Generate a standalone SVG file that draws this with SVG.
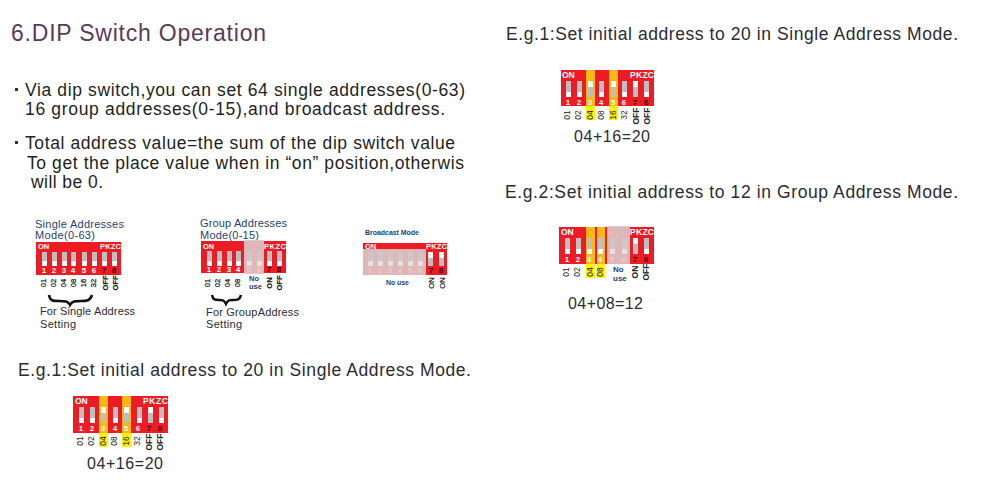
<svg xmlns="http://www.w3.org/2000/svg" width="982" height="483" viewBox="0 0 982 483">
<style>
text{font-family:"Liberation Sans",Arial,sans-serif}
.body{font-size:17.5px;fill:#231f20}
.eg{font-size:17.5px;fill:#2b2b33}
.sum{font-size:16px;fill:#2b2b33}
.cap{font-size:11px;fill:#1f3f73}
.set{font-size:11px;fill:#2b2b33}
.red{fill:#ed1c24}
.or{fill:#fdb913}
.ye{fill:#fff200}
.ov{fill:#dcc4c6;opacity:.92}
.hd{font-size:7.5px;font-weight:bold;fill:#fff}
.hb{font-size:8.5px;font-weight:bold;fill:#fff}
.n{font-size:8px;font-weight:bold;fill:#fff;text-anchor:middle}
.k{font-size:8px;font-weight:bold;fill:#3a0a10;text-anchor:middle}
.p{font-size:8px;font-weight:bold;fill:#fbdada;text-anchor:middle}
.v{font-size:7.5px;fill:#111;stroke:#111;stroke-width:.2;text-anchor:middle}
.vb{font-size:8.5px;fill:#231f20;text-anchor:middle}
.b{font-weight:bold}
.g{fill:#bcbec0}.w{fill:#fff}
.g2{fill:#cfc6c6}.w2{fill:#e8dede}
.brace{fill:none;stroke:#111;stroke-width:2.5}
.nu{font-size:7.5px;font-weight:bold;fill:#1f3f73}
</style>
<rect width="982" height="483" fill="#fff"/>
<text x="11" y="41" font-size="23" fill="#5a3a5c" textLength="255">6.DIP Switch Operation</text>
<g id="notes">
<rect x="15" y="88" width="3" height="3" fill="#333"/>
<text class="body" x="25" y="96" textLength="440">Via dip switch,you can set 64 single addresses(0-63)</text>
<text class="body" x="25" y="115" textLength="420">16 group addresses(0-15),and broadcast address.</text>
<rect x="15" y="141" width="3" height="3" fill="#333"/>
<text class="body" x="25" y="149" textLength="430">Total address value=the sum of the dip switch value</text>
<text class="body" x="27" y="169" textLength="437">To get the place value when in “on” position,otherwis</text>
<text class="body" x="31" y="188" textLength="72">will be 0.</text>
</g>
<g id="single-mode">
<text class="cap" x="35" y="228" textLength="89">Single Addresses</text>
<text class="cap" x="35" y="239" textLength="60">Mode(0-63)</text>
<rect class="red" x="36" y="242" width="85" height="33"/>
<text class="hd" x="38" y="249">ON</text><text class="hd" x="100" y="249" textLength="21">PKZC</text>
<path class="g" d="M42 252h5v9h-5zM52 252h5v9h-5zM62 252h5v9h-5zM71 252h5v9h-5zM82 252h5v9h-5zM92 252h5v9h-5zM102 252h5v9h-5zM112 252h5v9h-5z"/>
<path class="w" d="M42 261h5v5h-5zM52 261h5v5h-5zM62 261h5v5h-5zM71 261h5v5h-5zM82 261h5v5h-5zM92 261h5v5h-5zM102 261h5v5h-5zM112 261h5v5h-5z"/>
<text class="n" x="44" y="273">1</text><text class="n" x="54" y="273">2</text><text class="n" x="64" y="273">3</text><text class="n" x="73" y="273">4</text><text class="n" x="84" y="273">5</text><text class="n" x="94" y="273">6</text><text class="k" x="104" y="273">7</text><text class="k" x="114" y="273">8</text>
<text class="v" transform="translate(46,283) rotate(-90)">01</text><text class="v" transform="translate(56,283) rotate(-90)">02</text><text class="v" transform="translate(66,283) rotate(-90)">04</text><text class="v" transform="translate(76,283) rotate(-90)">08</text><text class="v" transform="translate(86,283) rotate(-90)">16</text><text class="v" transform="translate(96,283) rotate(-90)">32</text>
<text class="v b" transform="translate(108,283) rotate(-90)">OFF</text><text class="v b" transform="translate(118,283) rotate(-90)">OFF</text>
<path class="brace" d="M49 295c1 6 4 6 10 6s9 0 11 4c2-4 5-4 11-4s9 0 11-6"/>
<text class="set" x="40" y="315" textLength="95">For Single Address</text>
<text class="set" x="40" y="328" textLength="36">Setting</text>
</g>
<g id="group-mode">
<text class="cap" x="200" y="227" textLength="87">Group Addresses</text>
<text class="cap" x="200" y="239" textLength="59">Mode(0-15)</text>
<rect class="red" x="201" y="241" width="85" height="32"/>
<rect class="ov" x="244" y="240" width="20" height="34"/>
<text class="hd" x="203" y="249">ON</text><text class="hd" x="264" y="249" textLength="22">PKZC</text>
<path class="g" d="M207 251h5v10h-5zM217 251h5v10h-5zM227 251h5v10h-5zM236 251h5v10h-5zM267 256h5v-5h-5zM277 251h5v10h-5z"/>
<path class="g2" d="M247 251h5v10h-5zM257 251h5v10h-5z"/>
<path class="w" d="M207 261h5v5h-5zM217 261h5v5h-5zM227 261h5v5h-5zM236 261h5v5h-5zM267 256h5v10h-5zM277 261h5v5h-5z"/>
<path class="g" d="M267 256h5v5h-5z"/>
<path class="w2" d="M247 261h5v5h-5zM257 261h5v5h-5z"/>
<text class="n" x="209" y="272">1</text><text class="n" x="219" y="272">2</text><text class="n" x="229" y="272">3</text><text class="n" x="238" y="272">4</text><text class="p" x="249" y="272" opacity=".6">5</text><text class="p" x="259" y="272" opacity=".6">6</text><text class="k" x="269" y="272">7</text><text class="k" x="279" y="272">8</text>
<text class="v" transform="translate(210,283) rotate(-90)">01</text><text class="v" transform="translate(220,283) rotate(-90)">02</text><text class="v" transform="translate(230,283) rotate(-90)">04</text><text class="v" transform="translate(240,283) rotate(-90)">08</text>
<text class="nu" x="249" y="281">No</text><text class="nu" x="249" y="289">use</text>
<text class="v b" transform="translate(272,283) rotate(-90)">ON</text><text class="v b" transform="translate(282,283) rotate(-90)">OFF</text>
<path class="brace" d="M212 295c1 5 3 5 7 5s5 0 7 4c2-4 3-4 7-4s7 0 8-5"/>
<text class="set" x="206" y="316" textLength="93">For GroupAddress</text>
<text class="set" x="206" y="328" textLength="36">Setting</text>
</g>
<g id="broadcast-mode">
<text x="365" y="235" font-size="7" font-weight="bold" fill="#1f3f73" textLength="54">Broadcast Mode</text>
<rect class="red" x="363" y="243" width="84" height="32"/>
<rect class="ov" x="363" y="249" width="63" height="26"/>
<text class="hd" x="365" y="249">ON</text><text class="hd" x="426" y="249" textLength="21">PKZC</text>
<path class="g2" d="M368 252h5v9h-5zM378 252h5v9h-5zM388 252h5v9h-5zM398 252h5v9h-5zM408 252h5v9h-5zM418 252h5v9h-5z"/>
<path class="w2" d="M368 261h5v5h-5zM378 261h5v5h-5zM388 261h5v5h-5zM398 261h5v5h-5zM408 261h5v5h-5zM418 261h5v5h-5z"/>
<path class="w" d="M428 252h5v9h-5zM439 252h5v9h-5z"/><path class="g" d="M428 258h5v8h-5zM439 258h5v8h-5z"/>
<text class="p" x="370" y="273" opacity=".5">1</text><text class="p" x="380" y="273" opacity=".5">2</text><text class="p" x="390" y="273" opacity=".5">3</text><text class="p" x="400" y="273" opacity=".5">4</text><text class="p" x="410" y="273" opacity=".5">5</text><text class="p" x="420" y="273" opacity=".5">6</text><text class="k" x="431" y="273">7</text><text class="k" x="441" y="273">8</text>
<text x="386" y="285" font-size="7" font-weight="bold" fill="#1f3f73" textLength="23">No use</text>
<text class="v" transform="translate(434,283) rotate(-90)">ON</text><text class="v" transform="translate(445,283) rotate(-90)">ON</text>
</g>
<g id="example-1-left">
<text class="eg" x="18" y="376" textLength="453">E.g.1:Set initial address to 20 in Single Address Mode.</text>
<rect class="red" x="73" y="396" width="95" height="37"/>
<rect class="or" x="99" y="396" width="9" height="37"/><rect class="or" x="122" y="396" width="9" height="37"/>
<rect class="ye" x="99" y="433" width="9" height="14"/><rect class="ye" x="122" y="433" width="9" height="14"/>
<text class="hb" x="75" y="404">ON</text><text class="hb" x="143" y="404" textLength="25">PKZC</text>
<path class="g" d="M79 407h5v16h-5zM90 407h5v16h-5zM101 407h5v16h-5zM113 407h5v16h-5zM124 407h5v16h-5zM137 407h5v16h-5zM148 407h5v16h-5zM159 407h5v16h-5z"/>
<path class="w" d="M79 418h5v5h-5zM90 418h5v5h-5zM101 407h5v6h-5zM113 418h5v5h-5zM124 407h5v6h-5zM137 418h5v5h-5zM148 407h5v6h-5zM159 418h5v5h-5z"/>
<text class="n" x="81" y="431">1</text><text class="n" x="92" y="431">2</text><text class="n" x="103" y="431">3</text><text class="n" x="115" y="431">4</text><text class="n" x="126" y="431">5</text><text class="n" x="138" y="431">6</text><text class="k" x="149" y="431">7</text><text class="k" x="160" y="431">8</text>
<text class="vb" transform="translate(83,441) rotate(-90)">01</text><text class="vb" transform="translate(94,441) rotate(-90)">02</text><text class="vb" transform="translate(106,441) rotate(-90)">04</text><text class="vb" transform="translate(117,441) rotate(-90)">08</text><text class="vb" transform="translate(129,441) rotate(-90)">16</text><text class="vb" transform="translate(140,441) rotate(-90)">32</text>
<text class="vb b" transform="translate(152,442) rotate(-90)">OFF</text><text class="vb b" transform="translate(163,442) rotate(-90)">OFF</text>
<text class="sum" x="87" y="469" textLength="76">04+16=20</text>
</g>
<g id="example-1-right">
<text class="eg" x="506" y="40" textLength="452">E.g.1:Set initial address to 20 in Single Address Mode.</text>
<rect class="red" x="561" y="70" width="93" height="36"/>
<rect class="or" x="586" y="70" width="9" height="36"/><rect class="or" x="609" y="70" width="9" height="36"/>
<rect class="ye" x="586" y="106" width="9" height="14"/><rect class="ye" x="609" y="106" width="9" height="14"/>
<text class="hb" x="562" y="78">ON</text><text class="hb" x="630" y="78" textLength="24">PKZC</text>
<path class="g" d="M566 81h5v16h-5zM577 81h5v16h-5zM588 81h5v16h-5zM599 81h5v16h-5zM611 81h5v16h-5zM622 81h5v16h-5zM633 81h5v16h-5zM644 81h5v16h-5z"/>
<path class="w" d="M566 92h5v5h-5zM577 92h5v5h-5zM588 81h5v6h-5zM599 92h5v5h-5zM611 81h5v6h-5zM622 92h5v5h-5zM633 81h5v6h-5zM644 92h5v5h-5z"/>
<text class="n" x="568" y="105">1</text><text class="n" x="579" y="105">2</text><text class="n" x="590" y="105">3</text><text class="n" x="601" y="105">4</text><text class="n" x="613" y="105">5</text><text class="n" x="624" y="105">6</text><text class="k" x="635" y="105">7</text><text class="k" x="646" y="105">8</text>
<text class="vb" transform="translate(570,115) rotate(-90)">01</text><text class="vb" transform="translate(581,115) rotate(-90)">02</text><text class="vb" transform="translate(593,115) rotate(-90)">04</text><text class="vb" transform="translate(604,115) rotate(-90)">08</text><text class="vb" transform="translate(616,115) rotate(-90)">16</text><text class="vb" transform="translate(627,115) rotate(-90)">32</text>
<text class="vb b" transform="translate(639,116) rotate(-90)">OFF</text><text class="vb b" transform="translate(650,116) rotate(-90)">OFF</text>
<text class="sum" x="574" y="142" textLength="76">04+16=20</text>
</g>
<g id="example-2-right">
<text class="eg" x="505" y="198" textLength="453">E.g.2:Set initial address to 12 in Group Address Mode.</text>
<rect class="red" x="559" y="227" width="95" height="37"/>
<rect class="or" x="586" y="227" width="9" height="37"/><rect class="or" x="597" y="227" width="8" height="37"/>
<rect class="ye" x="586" y="264" width="9" height="14"/><rect class="ye" x="597" y="264" width="8" height="14"/>
<rect class="ov" x="607" y="226" width="23" height="38"/>
<text class="hb" x="561" y="235">ON</text><text class="hb" x="630" y="235" textLength="24">PKZC</text>
<path class="g" d="M565 238h5v16h-5zM576 238h5v16h-5zM587 238h5v16h-5zM598 238h5v16h-5zM633 238h5v16h-5zM644 238h5v16h-5z"/>
<path class="g2" d="M610 238h5v16h-5zM622 238h5v16h-5z"/>
<path class="w" d="M565 249h5v5h-5zM576 249h5v5h-5zM587 249h5v5h-5zM598 249h5v5h-5zM633 238h5v6h-5zM644 249h5v5h-5z"/>
<path class="w2" d="M610 249h5v5h-5zM622 249h5v5h-5z"/>
<text class="n" x="567" y="262">1</text><text class="n" x="578" y="262">2</text><text class="n" x="589" y="262">3</text><text class="n" x="600" y="262">4</text><text class="p" x="612" y="262" opacity=".6">5</text><text class="p" x="624" y="262" opacity=".6">6</text><text class="k" x="635" y="262">7</text><text class="k" x="646" y="262">8</text>
<text class="vb" transform="translate(569,272) rotate(-90)">01</text><text class="vb" transform="translate(580,272) rotate(-90)">02</text><text class="vb" transform="translate(593,272) rotate(-90)">04</text><text class="vb" transform="translate(603,272) rotate(-90)">08</text>
<text x="613" y="272" font-size="8" font-weight="bold" fill="#1f3f73">No</text><text x="613" y="281" font-size="8" font-weight="bold" fill="#1f3f73">use</text>
<text class="vb b" transform="translate(638,272) rotate(-90)">ON</text><text class="vb b" transform="translate(649,272) rotate(-90)">OFF</text>
<text class="sum" x="568" y="309" textLength="75">04+08=12</text>
</g>
</svg>
